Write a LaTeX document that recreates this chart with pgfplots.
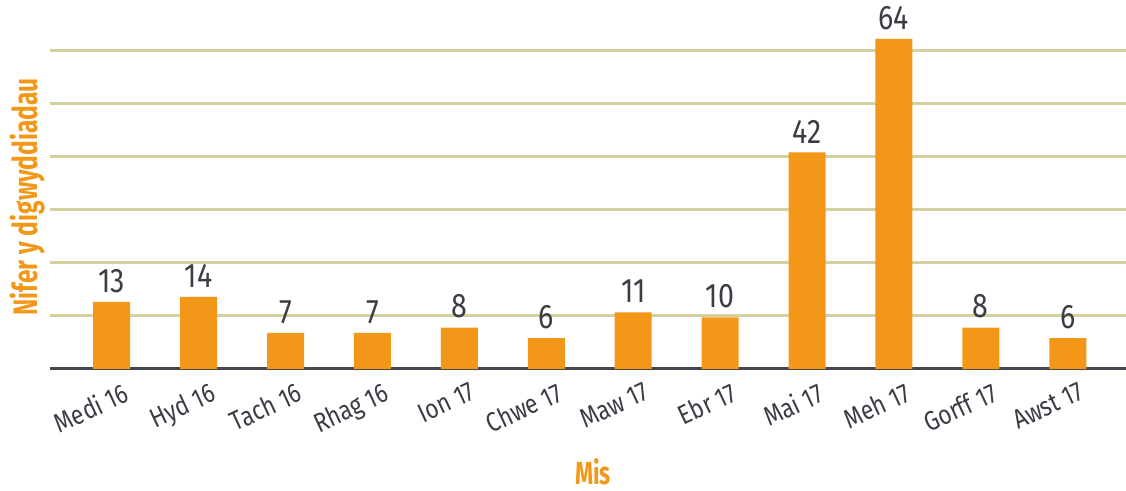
\documentclass[border=0pt]{standalone}
\usepackage{pgfplots}
\pgfplotsset{compat=1.18}
\usepackage{fontspec}
\setmainfont{Fira Sans}[FakeStretch=0.84]
\newfontfamily\labfont{Fira Sans}[FakeStretch=0.72]
\definecolor{barorange}{HTML}{F39718}
\definecolor{gridkhaki}{HTML}{D3D29F}
\definecolor{txtgray}{HTML}{3C3C46}
\definecolor{basegray}{HTML}{45454D}
\begin{document}
\begin{tikzpicture}
\useasboundingbox (-25pt,-61pt) rectangle (538pt,184.5pt);
\begin{axis}[
  scale only axis,
  width=538pt, height=180.5pt,
  at={(0pt,0pt)}, anchor=south west,
  xmin=-0.71, xmax=11.67,
  ymin=0, ymax=70,
  axis x line=bottom, axis y line=left,
  x axis line style={basegray, line width=1.5pt, -},
  y axis line style={draw=none},
  ytick={10.3,20.6,30.9,41.2,51.5,61.8},
  ymajorgrids,
  grid style={gridkhaki, line width=1.5pt},
  yticklabels={},
  xtick={0,...,11},
  xticklabels={Medi 16,Hyd 16,Tach 16,Rhag 16,Ion 17,Chwe 17,Maw 17,Ebr 17,Mai 17,Meh 17,Gorff 17,Awst 17},
  major tick length=0pt,
  xticklabel style={xshift=5pt, yshift=-6pt, rotate=25, anchor=north east, inner sep=0pt, font=\fontsize{13.5}{15}\selectfont, text=txtgray},
  ybar, bar width=18.5pt,
  nodes near coords,
  /pgf/number format/assume math mode=true,
  every node near coord/.append style={anchor=south, inner sep=0pt, yshift=4.5pt, font=\fontsize{17}{19}\selectfont, text=txtgray},
  xlabel={Mis},
  ylabel={Nifer y digwyddiadau},
  every axis x label/.style={at={(axis description cs:0.5046,-0.285)}, anchor=center, font=\labfont\bfseries\fontsize{16}{18}\selectfont, text=barorange},
  every axis y label/.style={at={(axis description cs:-0.0205,0.477)}, anchor=center, rotate=90, font=\labfont\bfseries\fontsize{17}{19}\selectfont, text=barorange},
  clip=false,
]
\addplot[fill=barorange, draw=none] coordinates {
(0,13) (1,14) (2,7) (3,7) (4,8) (5,6) (6,11) (7,10) (8,42) (9,64) (10,8) (11,6)
};
\end{axis}
\end{tikzpicture}
\end{document}
